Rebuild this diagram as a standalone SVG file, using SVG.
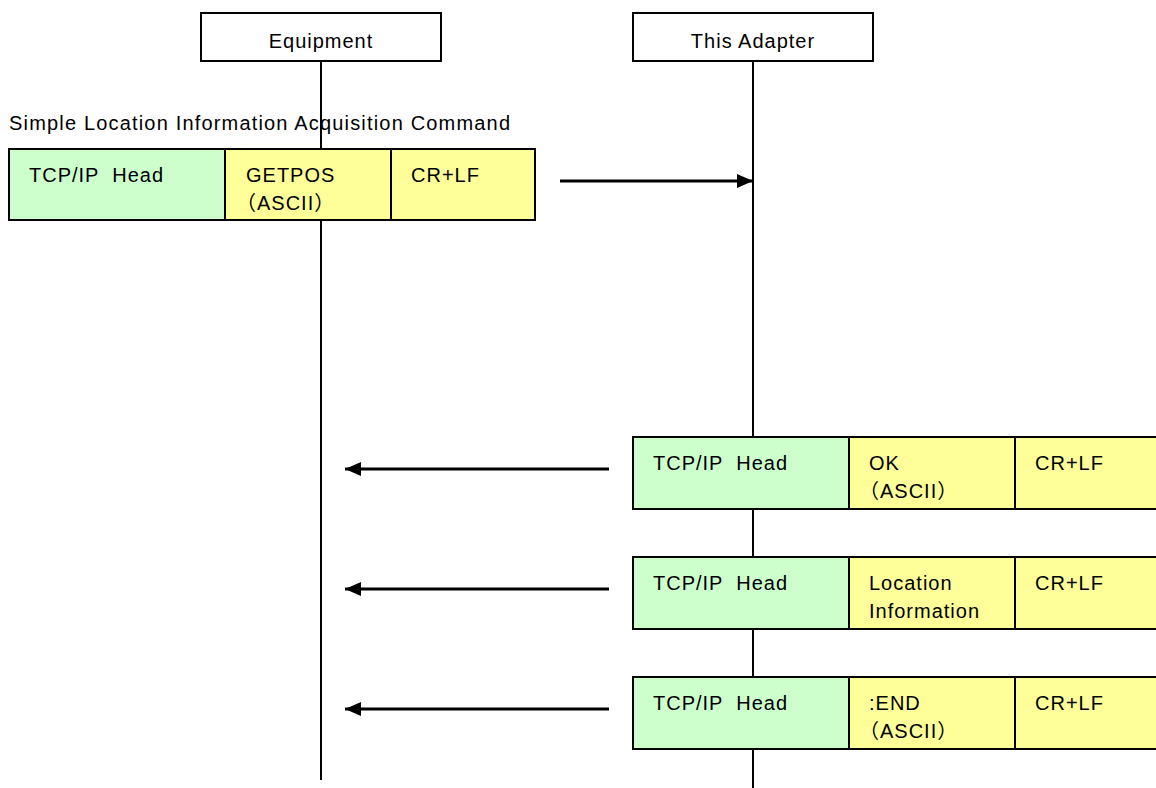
<svg xmlns="http://www.w3.org/2000/svg" width="1156" height="788" viewBox="0 0 1156 788">
<defs>
<marker id="ah" markerWidth="16" markerHeight="14" refX="16" refY="7" orient="auto" markerUnits="userSpaceOnUse">
<path d="M0,0 L16,7 L0,14 Z" fill="#000"/>
</marker>
<style>
text{font-family:"Liberation Sans","Noto Sans CJK JP",sans-serif;font-size:20px;letter-spacing:1px;fill:#000;white-space:pre}
.hdr{fill:#fff;stroke:#000;stroke-width:2}
.g{fill:#CCFFCC;stroke:#000;stroke-width:2}
.y{fill:#FFFF99;stroke:#000;stroke-width:2}
.life{stroke:#000;stroke-width:2;fill:none}
.arr{stroke:#000;stroke-width:3;fill:none;marker-end:url(#ah)}
</style>
</defs>
<rect width="1156" height="788" fill="#fff"/>
<g id="lifelines">
<line class="life" x1="321" y1="61" x2="321" y2="780"/>
<line class="life" x1="753" y1="61" x2="753" y2="788"/>
</g>
<g id="equipment">
<rect class="hdr" x="201" y="13" width="240" height="48"/>
<text x="321" y="48" text-anchor="middle">Equipment</text>
</g>
<g id="adapter">
<rect class="hdr" x="633" y="13" width="240" height="48"/>
<text x="753" y="48" text-anchor="middle">This Adapter</text>
</g>
<text id="title" x="9" y="130" textLength="502">Simple Location Information Acquisition Command</text>
<g id="msg1">
<rect class="g" x="9" y="149" width="216" height="71"/>
<rect class="y" x="225" y="149" width="166" height="71"/>
<rect class="y" x="391" y="149" width="144" height="71"/>
<text x="29" y="182" xml:space="preserve">TCP/IP  Head</text>
<text x="246" y="182">GETPOS</text>
<text x="236" y="210">（ASCII）</text>
<text x="411" y="182">CR+LF</text>
</g>
<g id="msg2">
<rect class="g" x="633" y="437" width="216" height="72"/>
<rect class="y" x="849" y="437" width="166" height="72"/>
<rect class="y" x="1015" y="437" width="150" height="72"/>
<text x="653" y="470" xml:space="preserve">TCP/IP  Head</text>
<text x="869" y="470">OK</text>
<text x="859" y="498">（ASCII）</text>
<text x="1035" y="470">CR+LF</text>
</g>
<g id="msg3">
<rect class="g" x="633" y="557" width="216" height="72"/>
<rect class="y" x="849" y="557" width="166" height="72"/>
<rect class="y" x="1015" y="557" width="150" height="72"/>
<text x="653" y="590" xml:space="preserve">TCP/IP  Head</text>
<text x="869" y="590">Location</text>
<text x="869" y="618">Information</text>
<text x="1035" y="590">CR+LF</text>
</g>
<g id="msg4">
<rect class="g" x="633" y="677" width="216" height="72"/>
<rect class="y" x="849" y="677" width="166" height="72"/>
<rect class="y" x="1015" y="677" width="150" height="72"/>
<text x="653" y="710" xml:space="preserve">TCP/IP  Head</text>
<text x="869" y="710">:END</text>
<text x="859" y="738">（ASCII）</text>
<text x="1035" y="710">CR+LF</text>
</g>
<g id="connectors">
<line class="arr" x1="560" y1="181" x2="753" y2="181"/>
<line class="arr" x1="609" y1="469" x2="345" y2="469"/>
<line class="arr" x1="609" y1="589" x2="345" y2="589"/>
<line class="arr" x1="609" y1="709" x2="345" y2="709"/>
</g>
</svg>
